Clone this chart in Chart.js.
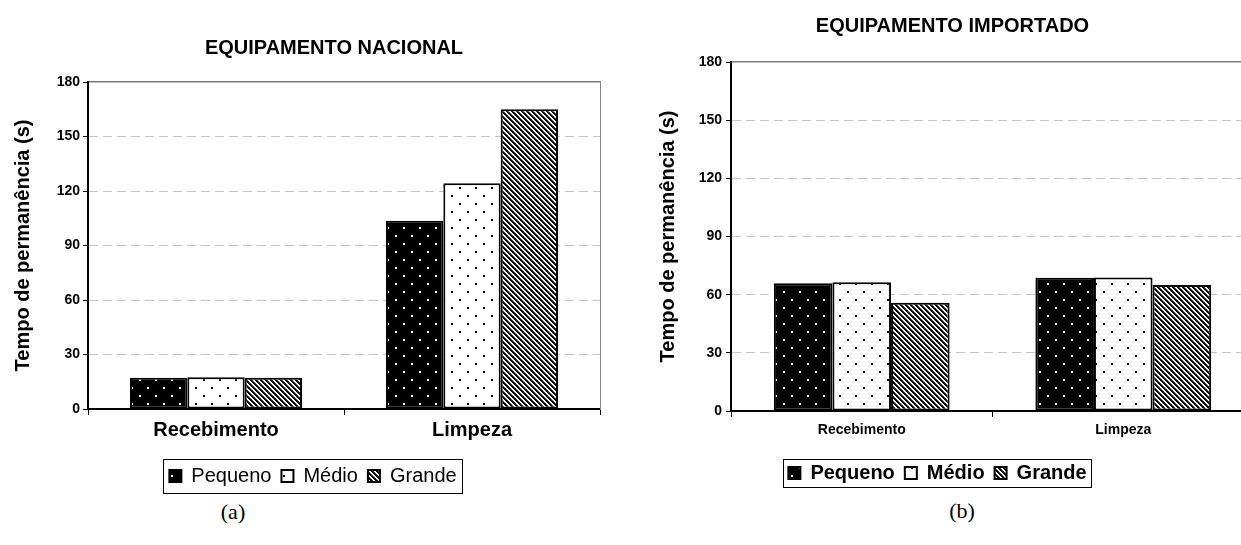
<!DOCTYPE html>
<html>
<head>
<meta charset="utf-8">
<script src="https://cdn.jsdelivr.net/npm/chart.js@4.4.0/dist/chart.umd.min.js"></script>
<style>
  html, body { margin: 0; padding: 0; background: #fff; overflow: hidden; width: 1241px; height: 545px; }
  #wrapA { position: absolute; left: 0; top: 0; }
  #wrapB { position: absolute; left: 620px; top: 0; }
  .cap { position: absolute; font-family: 'Liberation Serif', 'Times New Roman', serif; font-size: 22px; color: #000; transform: translate(-50%, -50%); }
</style>
</head>
<body>
<div id="wrapA"><canvas id="chartA" width="626" height="496"></canvas></div>
<div id="wrapB"><canvas id="chartB" width="635" height="493"></canvas></div>
<div class="cap" style="left:233px; top:512px;">(a)</div>
<div class="cap" style="left:962px; top:511px;">(b)</div>
<script>
// chart data
const categories = ["Recebimento", "Limpeza"];
const seriesNames = ["Pequeno", "Médio", "Grande"];
const yTicks = [0, 30, 60, 90, 120, 150, 180];

const nacionalPequeno = [17.2, 103.6];
const nacionalMedio = [17.5, 124.2];
const nacionalGrande = [17.2, 165];

const importadoPequeno = [65.9, 68.7];
const importadoMedio = [66.4, 68.8];
const importadoGrande = [55.8, 65];

Chart.defaults.font.family = "'Liberation Sans', Arial, sans-serif";
Chart.defaults.color = "#000";

// fill patterns for the three sizes
function makePattern(kind) {
    const c = document.createElement("canvas");
    if (kind === "grande") {
        // crisp "\" stripes, drawn pixel by pixel
        c.width = 5; c.height = 5;
        const g = c.getContext("2d");
        g.fillStyle = "#fff";
        g.fillRect(0, 0, 5, 5);
        for (let y = 0; y < 5; y++) {
            for (let x = 0; x < 5; x++) {
                const k = ((x - y) % 5 + 5) % 5;
                if (k < 2) { g.fillStyle = "#000"; g.fillRect(x, y, 1, 1); }
                else if (k === 2) { g.fillStyle = "#444"; g.fillRect(x, y, 1, 1); }
            }
        }
        return g.createPattern(c, "repeat");
    }
    c.width = 16; c.height = 16;
    const g = c.getContext("2d");
    g.fillStyle = kind === "pequeno" ? "#000" : "#fff";
    g.fillRect(0, 0, 16, 16);
    g.fillStyle = kind === "pequeno" ? "#fff" : "#000";
    g.fillRect(3, 3, 2, 2);
    g.fillRect(11, 11, 2, 2);
    return g.createPattern(c, "repeat");
}
const fills = [makePattern("pequeno"), makePattern("medio"), makePattern("grande")];

// box around the legend items
const legendFrame = {
    id: "legendFrame",
    afterDraw(chart, args, opts) {
        const boxes = chart.legend && chart.legend.legendHitBoxes;
        if (!boxes || !boxes.length) return;
        let l = Infinity, r = -Infinity, t = Infinity, b = -Infinity;
        boxes.forEach((h) => {
            l = Math.min(l, h.left);
            r = Math.max(r, h.left + h.width);
            t = Math.min(t, h.top);
            b = Math.max(b, h.top + h.height);
        });
        const ctx = chart.ctx;
        ctx.save();
        ctx.strokeStyle = "#000";
        ctx.lineWidth = 1;
        ctx.strokeRect(Math.round(l - opts.padX) + 0.5, Math.round(t - opts.padY) + 0.5,
            Math.round(r - l + 2 * opts.padX), Math.round(b - t + 2 * opts.padY));
        ctx.restore();
    }
};

// move the chart title sideways
const titleNudge = {
    id: "titleNudge",
    afterLayout(chart, args, opts) {
        if (chart.titleBlock && opts.shift) chart.titleBlock.left += 2 * opts.shift;
    }
};

function buildData(p, m, g) {
    const values = [p, m, g];
    return {
        labels: categories,
        datasets: seriesNames.map((name, i) => ({
            label: name,
            data: values[i],
            backgroundColor: fills[i],
            borderColor: "#000",
            borderWidth: 2,
            borderSkipped: false,
            categoryPercentage: 0.672,
            barPercentage: 1
        }))
    };
}

function buildOptions(cfg) {
    return {
        responsive: false,
        animation: false,
        layout: { padding: 0 },
        plugins: {
            title: {
                display: true,
                text: cfg.title,
                color: "#000",
                font: { size: 20, weight: "bold" },
                padding: cfg.titlePad
            },
            titleNudge: { shift: cfg.titleShift },
            legend: {
                position: "bottom",
                labels: { color: "#000", font: cfg.legendFont, boxWidth: 12, boxHeight: 12, padding: 10 }
            },
            legendFrame: cfg.frame,
            tooltip: { enabled: false }
        },
        scales: {
            x: {
                type: "category",
                offset: true,
                grid: { offset: true, drawOnChartArea: false, drawTicks: true, tickLength: 6, color: "#000", lineWidth: 1 },
                border: { display: true, color: "#000", width: 2 },
                ticks: { color: "#000", font: cfg.catFont, padding: cfg.catPad, maxRotation: 0 },
                afterFit: (s) => { s.height = cfg.xHeight; }
            },
            x2: {
                type: "category",
                position: "top",
                offset: true,
                grid: { display: false, drawTicks: false },
                ticks: { display: false },
                border: { display: true, color: "#7a7a7a", width: 1.5 },
                afterFit: (s) => { s.height = 0; }
            },
            y: {
                min: 0,
                max: 180,
                afterBuildTicks: (s) => { s.ticks = yTicks.map((v) => ({ value: v })); },
                ticks: { color: "#000", font: { size: 14, weight: "bold" }, padding: cfg.tickPad },
                grid: {
                    color: (ctx) => (ctx.tick && (ctx.tick.value === 0 || ctx.tick.value === 180)) ? "rgba(0,0,0,0)" : "#c4c4c4",
                    tickColor: "#000",
                    tickLength: 5,
                    lineWidth: 1
                },
                border: { display: true, color: "#000", width: 2, dash: [9, 5] },
                title: {
                    display: true,
                    text: "Tempo de permanência (s)",
                    color: "#000",
                    font: { size: 20, weight: "bold" },
                    padding: { top: cfg.yTitleTop, bottom: 0 }
                },
                afterFit: (s) => { s.width = cfg.yWidth; }
            },
            y2: {
                position: "right",
                min: 0,
                max: 180,
                grid: { display: false, drawTicks: false },
                ticks: { display: false },
                border: { display: true, color: "#8a8a8a", width: 1 },
                afterFit: (s) => { s.width = cfg.y2Width; }
            }
        }
    };
}

new Chart(document.getElementById("chartA"), {
    type: "bar",
    data: buildData(nacionalPequeno, nacionalMedio, nacionalGrande),
    options: buildOptions({
        title: "EQUIPAMENTO NACIONAL",
        titlePad: { top: 36, bottom: 22 },
        titleShift: 21,
        legendFont: { size: 20, weight: "normal" },
        frame: { padX: 6, padY: 7 },
        catFont: { size: 20, weight: "bold" },
        catPad: 3,
        xHeight: 47,
        tickPad: 3,
        yTitleTop: 11,
        yWidth: 88,
        y2Width: 26
    }),
    plugins: [legendFrame, titleNudge]
});

new Chart(document.getElementById("chartB"), {
    type: "bar",
    data: buildData(importadoPequeno, importadoMedio, importadoGrande),
    options: buildOptions({
        title: "EQUIPAMENTO IMPORTADO",
        titlePad: { top: 14, bottom: 24 },
        titleShift: 15,
        legendFont: { size: 20, weight: "bold" },
        frame: { padX: 5, padY: 4 },
        catFont: { size: 14, weight: "bold" },
        catPad: 5,
        xHeight: 42,
        tickPad: 4,
        yTitleTop: 36,
        yWidth: 111,
        y2Width: 1
    }),
    plugins: [legendFrame, titleNudge]
});
</script>
</body>
</html>
